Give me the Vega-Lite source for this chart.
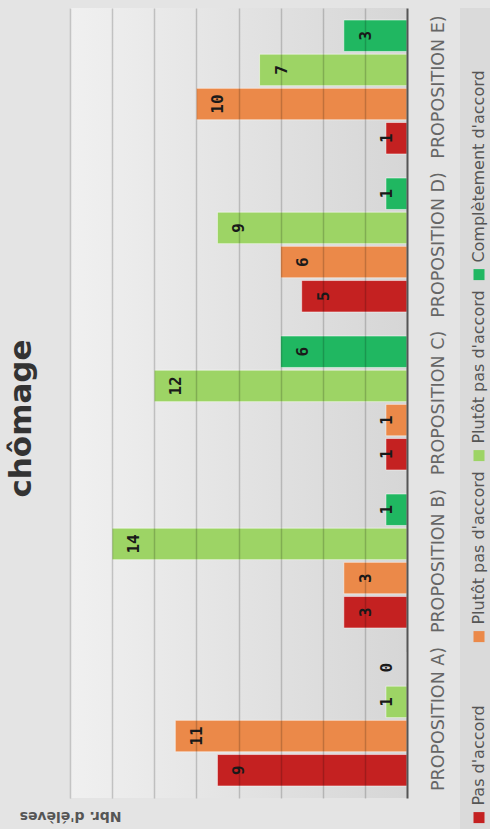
{
  "$schema": "https://vega.github.io/schema/vega-lite/v6.json",
  "padding": {"left": 6, "top": 8, "right": 0, "bottom": 0},
  "background": "#e4e4e4",
  "title": {"text": "chômage", "orient": "left", "anchor": "middle", "font": "DejaVu Sans", "fontSize": 31, "fontWeight": "bold", "color": "#333333", "offset": -19},
  "config": {"font": "DejaVu Sans", "view": {"stroke": null}},
  "spacing": 13,
  "datasets": {
    "votes": [
      {"proposition": "PROPOSITION A)", "serie": 1, "reponse": "Pas d'accord", "nombre": 9},
      {"proposition": "PROPOSITION A)", "serie": 2, "reponse": "Plutôt pas d'accord", "nombre": 11},
      {"proposition": "PROPOSITION A)", "serie": 3, "reponse": "Plutôt pas d'accord", "nombre": 1},
      {"proposition": "PROPOSITION A)", "serie": 4, "reponse": "Complètement d'accord", "nombre": 0},
      {"proposition": "PROPOSITION B)", "serie": 1, "reponse": "Pas d'accord", "nombre": 3},
      {"proposition": "PROPOSITION B)", "serie": 2, "reponse": "Plutôt pas d'accord", "nombre": 3},
      {"proposition": "PROPOSITION B)", "serie": 3, "reponse": "Plutôt pas d'accord", "nombre": 14},
      {"proposition": "PROPOSITION B)", "serie": 4, "reponse": "Complètement d'accord", "nombre": 1},
      {"proposition": "PROPOSITION C)", "serie": 1, "reponse": "Pas d'accord", "nombre": 1},
      {"proposition": "PROPOSITION C)", "serie": 2, "reponse": "Plutôt pas d'accord", "nombre": 1},
      {"proposition": "PROPOSITION C)", "serie": 3, "reponse": "Plutôt pas d'accord", "nombre": 12},
      {"proposition": "PROPOSITION C)", "serie": 4, "reponse": "Complètement d'accord", "nombre": 6},
      {"proposition": "PROPOSITION D)", "serie": 1, "reponse": "Pas d'accord", "nombre": 5},
      {"proposition": "PROPOSITION D)", "serie": 2, "reponse": "Plutôt pas d'accord", "nombre": 6},
      {"proposition": "PROPOSITION D)", "serie": 3, "reponse": "Plutôt pas d'accord", "nombre": 9},
      {"proposition": "PROPOSITION D)", "serie": 4, "reponse": "Complètement d'accord", "nombre": 1},
      {"proposition": "PROPOSITION E)", "serie": 1, "reponse": "Pas d'accord", "nombre": 1},
      {"proposition": "PROPOSITION E)", "serie": 2, "reponse": "Plutôt pas d'accord", "nombre": 10},
      {"proposition": "PROPOSITION E)", "serie": 3, "reponse": "Plutôt pas d'accord", "nombre": 7},
      {"proposition": "PROPOSITION E)", "serie": 4, "reponse": "Complètement d'accord", "nombre": 3}
    ],
    "legende": [
      {"serie": 1, "libelle": "Pas d'accord"},
      {"serie": 2, "libelle": "Plutôt pas d'accord"},
      {"serie": 3, "libelle": "Plutôt pas d'accord"},
      {"serie": 4, "libelle": "Complètement d'accord"}
    ]
  },
  "hconcat": [
    {
      "width": 337,
      "height": 790,
      "view": {"stroke": null, "fill": {"gradient": "linear", "x1": 0, "y1": 0, "x2": 1, "y2": 0, "stops": [{"offset": 0, "color": "#f0f0f0"}, {"offset": 1, "color": "#d6d6d6"}]}},
      "data": {"name": "votes"},
      "encoding": {
        "y": {"field": "proposition", "type": "nominal", "sort": "descending",
          "scale": {"paddingInner": 0.152, "paddingOuter": 0.076},
          "axis": {"orient": "right", "title": null, "ticks": false, "domain": true, "domainColor": "#555555", "domainWidth": 2,
            "labelAngle": 270, "labelAlign": "center", "labelBaseline": "top", "labelPadding": 22,
            "labelFontSize": 17.5, "labelColor": "#666666", "labelFont": "DejaVu Sans", "zindex": 1}},
        "yOffset": {"field": "serie", "type": "ordinal", "sort": "descending", "scale": {"paddingInner": 0.08}}
      },
      "layer": [
        {
          "mark": {"type": "bar", "stroke": "#ffffff", "strokeOpacity": 0.5, "strokeWidth": 1},
          "encoding": {
            "x": {"field": "nombre", "type": "quantitative", "scale": {"domain": [0, 16], "reverse": true, "nice": false},
              "axis": {"title": "Nbr. d'élèves", "values": [2, 4, 6, 8, 10, 12, 14, 16], "labels": false, "ticks": false, "domain": false,
                "grid": true, "gridColor": "#000000", "gridOpacity": 0.18, "gridWidth": 1.5,
                "titleAngle": 180, "titleAnchor": "end", "titleAlign": "center", "titleBaseline": "bottom", "titlePadding": 10,
                "titleFontSize": 14, "titleFontWeight": "bold", "titleColor": "#555555", "titleFont": "DejaVu Sans", "zindex": 1}},
            "color": {"field": "serie", "type": "ordinal", "scale": {"domain": [1, 2, 3, 4], "range": ["#c42121", "#eb8949", "#9dd465", "#20b761"]}, "legend": null}
          }
        },
        {
          "transform": [{"filter": "datum.nombre >= 2"}],
          "mark": {"type": "text", "angle": 270, "align": "center", "baseline": "middle", "dy": 22, "font": "DejaVu Sans Mono", "fontWeight": "bold", "fontSize": 16, "color": "#1a1a1a"},
          "encoding": {
            "x": {"field": "nombre", "type": "quantitative", "scale": {"domain": [0, 16], "reverse": true, "nice": false},
              "axis": {"title": "Nbr. d'élèves", "values": [2, 4, 6, 8, 10, 12, 14, 16], "labels": false, "ticks": false, "domain": false,
                "grid": true, "gridColor": "#000000", "gridOpacity": 0.18, "gridWidth": 1.5,
                "titleAngle": 180, "titleAnchor": "end", "titleAlign": "center", "titleBaseline": "bottom", "titlePadding": 10,
                "titleFontSize": 14, "titleFontWeight": "bold", "titleColor": "#555555", "titleFont": "DejaVu Sans", "zindex": 1}},
            "text": {"field": "nombre", "type": "quantitative"}
          }
        },
        {
          "transform": [{"filter": "datum.nombre < 2"}],
          "mark": {"type": "text", "angle": 270, "align": "center", "baseline": "middle", "dy": 22, "font": "DejaVu Sans Mono", "fontWeight": "bold", "fontSize": 16, "color": "#1a1a1a"},
          "encoding": {
            "x": {"datum": 2, "type": "quantitative", "scale": {"domain": [0, 16], "reverse": true, "nice": false},
              "axis": {"title": "Nbr. d'élèves", "values": [2, 4, 6, 8, 10, 12, 14, 16], "labels": false, "ticks": false, "domain": false,
                "grid": true, "gridColor": "#000000", "gridOpacity": 0.18, "gridWidth": 1.5,
                "titleAngle": 180, "titleAnchor": "end", "titleAlign": "center", "titleBaseline": "bottom", "titlePadding": 10,
                "titleFontSize": 14, "titleFontWeight": "bold", "titleColor": "#555555", "titleFont": "DejaVu Sans", "zindex": 1}},
            "text": {"field": "nombre", "type": "quantitative"}
          }
        }
      ]
    },
    {
      "width": 30,
      "height": 821,
      "view": {"fill": "#dadada", "stroke": null},
      "data": {"name": "legende"},
      "encoding": {
        "y": {"field": "serie", "type": "ordinal", "sort": [4, 3, 2, 1], "scale": {"type": "point", "padding": 0.768, "align": 0.959}, "axis": null}
      },
      "layer": [
        {
          "mark": {"type": "square", "size": 121, "opacity": 1, "filled": true, "xOffset": 4},
          "encoding": {
            "color": {"field": "serie", "type": "ordinal", "scale": {"domain": [1, 2, 3, 4], "range": ["#c42121", "#eb8949", "#9dd465", "#20b761"]}, "legend": null}
          }
        },
        {
          "mark": {"type": "text", "angle": 270, "align": "left", "baseline": "middle", "dx": 12, "xOffset": 4, "fontSize": 16, "font": "DejaVu Sans", "color": "#555555"},
          "encoding": {"text": {"field": "libelle", "type": "nominal"}}
        }
      ]
    }
  ]
}
